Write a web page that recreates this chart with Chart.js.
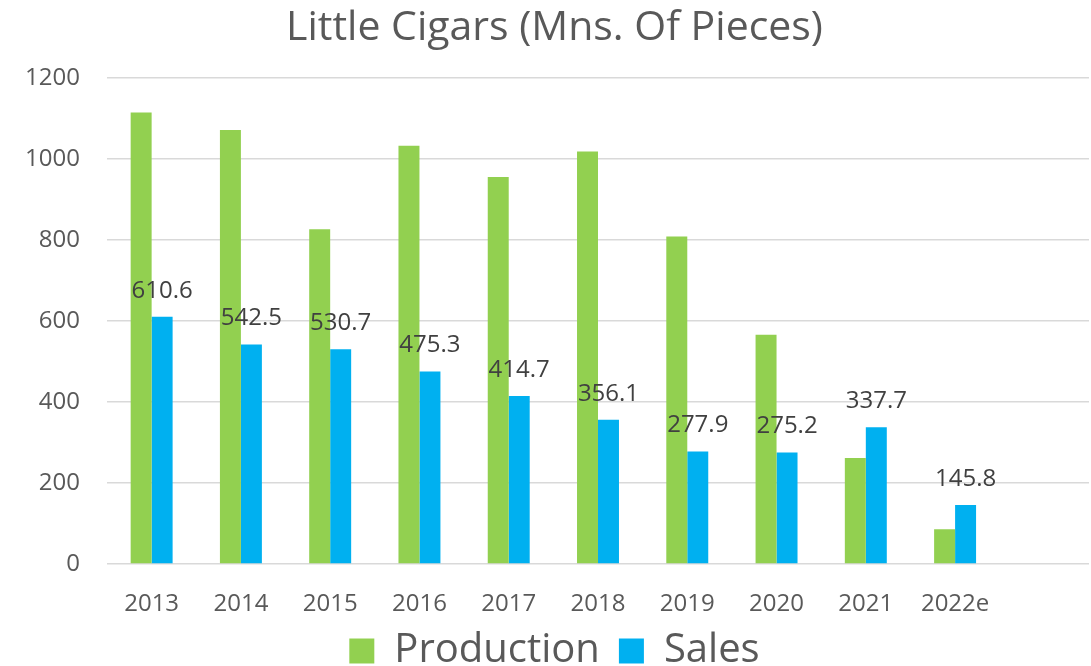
<!DOCTYPE html>
<html>
<head>
<meta charset="utf-8">
<script src="https://cdn.jsdelivr.net/npm/chart.js@4"></script>
<style>
  body { margin: 0; background: #fff; }
  #wrap { width: 1091px; height: 666px; }
</style>
</head>
<body>
<div id="wrap"><canvas id="grafico"></canvas></div>
<script>
// datos
let anios = ["2013", "2014", "2015", "2016", "2017", "2018", "2019", "2020", "2021", "2022e", ""];
let produccion = [1115, 1072, 827, 1033, 956, 1019, 809, 566, 262, 86];
let ventas = [610.6, 542.5, 530.7, 475.3, 414.7, 356.1, 277.9, 275.2, 337.7, 145.8];
let ticksY = [0, 200, 400, 600, 800, 1000, 1200];

const fuente = "'Segoe UI', 'Open Sans', sans-serif";

// etiquetas de valor encima de las barras de ventas
const etiquetas = {
    id: "etiquetas",
    afterDatasetsDraw(chart) {
        let ctx = chart.ctx;
        let meta = chart.getDatasetMeta(1);
        ctx.save();
        ctx.font = "24px " + fuente;
        ctx.fillStyle = "#404040";
        ctx.textAlign = "center";
        ctx.textBaseline = "middle";
        meta.data.forEach(function (bar, i) {
            ctx.fillText(ventas[i].toFixed(1), bar.x, bar.y - 26);
        });
        ctx.restore();
    }
};

let ctx = document.getElementById("grafico").getContext("2d");

new Chart(ctx, {
    type: "bar",
    data: {
        labels: anios,
        datasets: [{
            label: "Production",
            data: produccion,
            backgroundColor: "#92D050",
            categoryPercentage: 0.47,
            barPercentage: 1
        }, {
            label: "Sales",
            data: ventas,
            backgroundColor: "#00B0F0",
            categoryPercentage: 0.47,
            barPercentage: 1
        }]
    },
    options: {
        responsive: true,
        maintainAspectRatio: false,
        animation: false,
        // el padding izquierdo corre titulo y leyenda un poco a la derecha
        layout: { padding: { left: 20, right: 2, top: 0, bottom: -15 } },
        plugins: {
            title: {
                display: true,
                text: "Little Cigars (Mns. Of Pieces)",
                color: "#595959",
                font: { family: fuente, size: 41, weight: "normal" },
                padding: { top: 4, bottom: 25 }
            },
            legend: {
                position: "bottom",
                labels: {
                    color: "#595959",
                    font: { family: fuente, size: 40 },
                    boxWidth: 25,
                    boxHeight: 25,
                    padding: 19
                }
            },
            tooltip: { enabled: false }
        },
        scales: {
            x: {
                afterFit: function (scale) { scale.height = 48; },
                grid: { display: false },
                border: { display: false },
                ticks: {
                    color: "#595959",
                    font: { family: fuente, size: 24 },
                    padding: 18,
                    maxRotation: 0,
                    autoSkip: false
                }
            },
            y: {
                min: 0,
                max: 1200,
                afterFit: function (scale) { scale.width = 87; },
                afterBuildTicks: function (scale) {
                    scale.ticks = ticksY.map(v => ({ value: v }));
                },
                grid: { color: "#d9d9d9", lineWidth: 1.5, drawTicks: false },
                border: { display: false },
                ticks: {
                    color: "#595959",
                    font: { family: fuente, size: 24 },
                    padding: 27,
                    callback: v => String(v)
                }
            }
        }
    },
    plugins: [etiquetas]
});
</script>
</body>
</html>
